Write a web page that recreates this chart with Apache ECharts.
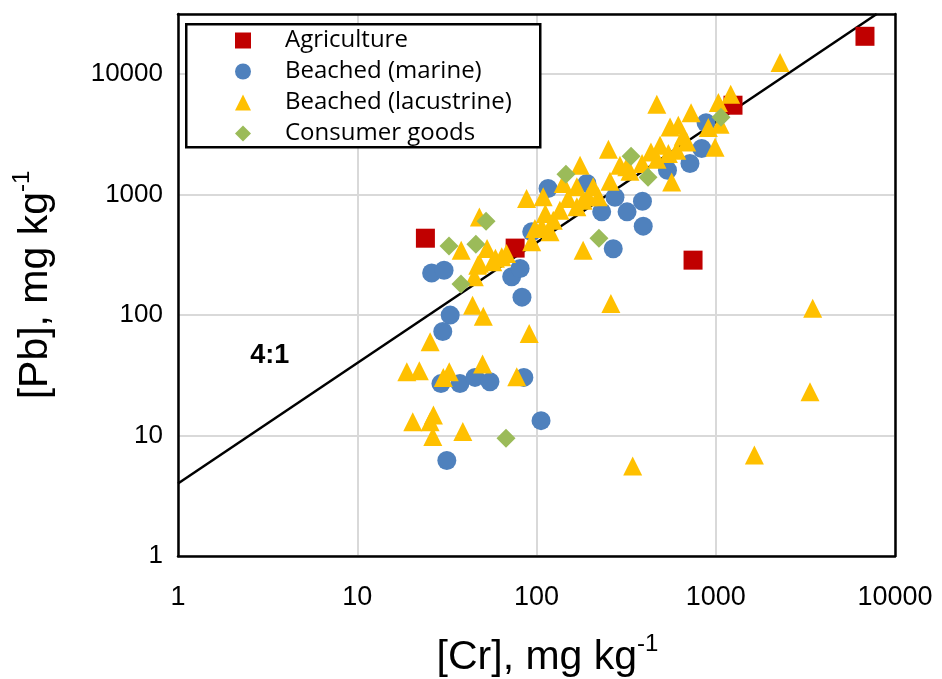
<!DOCTYPE html>
<html><head><meta charset="utf-8">
<script src="https://cdn.jsdelivr.net/npm/echarts@6/dist/echarts.min.js"></script>
<style>html,body{margin:0;padding:0;background:#fff}#c{width:942px;height:679px}</style>
</head><body><div id="c"></div>
<script>
const xTicks = [1, 10, 100, 1000, 10000];
const yTicks = [1, 10, 100, 1000, 10000];
const seriesNames = ['Agriculture', 'Beached (marine)', 'Beached (lacustrine)', 'Consumer goods'];

const agriculture = [[24,435],[76,360],[747,286],[1248,5530],[6800,20650]];

const marine = [
  [26,224],[30.5,236],[72.7,208],[81,244],[83,141],[94,491],[116,1126],[191,1239],
  [231,720],[274,953],[320,720],[390,883],[394,548],[268,356],[538,1597],[718,1816],
  [835,2418],[883,3960],[33,100],[30,73],[29.3,27],[37.4,27],[45.4,30.4],[55,28],
  [85,30.4],[106,13.3],[31.6,6.2]
];

const lacustrine = [
  [2284,12510],[1212,6826],[1034,5823],[1057,3846],[909,3613],[991,2479],[469,5637],[728,4795],
  [252,2387],[175,1758],[207,1161],[257,1295],[292,1758],[332,1567],[388,1816],[435,2266],
  [470,1972],[489,2576],[544,2198],[556,3654],[618,3776],[606,2341],[659,3060],[689,2743],
  [568,1277],[182,900],[221,959],[319,1702],[150,930],[141,1239],[168,1161],[135,744],
  [194,959],[182,346],[260,125],[344,5.6],[3475,114],[3357,23.1],[1642,6.9],[88,930],
  [109,959],[112,698],[107,540],[119,491],[94,406],[64,305],[68,325],[57,277],
  [53,358],[48,270],[48,654],[38,346],[47,260],[45,208],[59,296],[124,614],
  [98,524],[168,792],[44,121],[50.5,98],[91,70.5],[25.5,60],[18.9,33.8],[22.2,34.5],
  [32.6,33.8],[30.2,30.4],[50,39.2],[77.6,30.8],[20.4,13],[26.6,14.8],[25.5,13],[26.4,9.8],
  [38.8,10.8]
];

const consumer = [[52.3,603],[32.5,374],[45.9,388],[37.9,181],[146,1480],[337,2088],[419,1397],[223,435],[1070,4396],[67.6,9.5]];

const ratio = 4;
const xMin = 1, xMax = 10000, yMin = 1, yMax = 31623;
const ratioLine = [[xMin, xMin * ratio], [yMax / ratio, yMax]];
const ratioLabel = [[3.25, 46]];

const colors = ['#C00000', '#4F81BD', '#FFC000', '#9BBB59'];
const symbols = ['rect', 'circle', 'triangle', 'diamond'];
const dataSets = [agriculture, marine, lacustrine, consumer];

const chart = echarts.init(document.getElementById('c'), null, {renderer: 'canvas'});

const tickFmt = (ticks) => (v) => {
  for (const t of ticks) { if (Math.abs(v - t) / t < 1e-6) return String(t); }
  return '';
};

const scatterSeries = seriesNames.map((n, i) => ({
  name: n, type: 'scatter', symbol: symbols[i], symbolSize: 19,
  itemStyle: {color: colors[i], opacity: 1},
  data: dataSets[i], z: 3 + i
}));

const titleRich = {
  m: {fontFamily: 'Liberation Sans', fontSize: 41, color: '#000', lineHeight: 46, verticalAlign: 'bottom'},
  s: {fontFamily: 'Liberation Sans', fontSize: 24, color: '#000', lineHeight: 46, verticalAlign: 'top', padding: [0,0,14,0]}
};

const option = {
  animation: false,
  backgroundColor: '#fff',
  grid: {left: 178, right: 47, top: 14, bottom: 123, show: false, containLabel: false, outerBoundsMode: 'none'},
  xAxis: [{
    type: 'log', logBase: 10, min: xMin, max: xMax,
    axisLine: {show: true, lineStyle: {color: '#000', width: 2.5}},
    axisTick: {show: false},
    splitLine: {show: true, lineStyle: {color: '#d9d9d9', width: 2}},
    minorSplitLine: {show: false},
    axisLabel: {formatter: tickFmt(xTicks), fontFamily: 'Liberation Sans', fontSize: 27, color: '#000', margin: 28},
    name: '{m|[Cr], mg kg}{s|-1}', nameLocation: 'middle', nameGap: 76,
    nameTextStyle: {rich: titleRich, padding: [0, 0, 0, 22]}
  }, {
    type: 'log', logBase: 10, min: xMin, max: xMax, position: 'top',
    axisLine: {show: true, onZero: false, lineStyle: {color: '#000', width: 2.5}},
    axisTick: {show: false}, axisLabel: {show: false}, splitLine: {show: false}
  }],
  yAxis: [{
    type: 'log', logBase: 10, min: yMin, max: yMax,
    axisLine: {show: true, lineStyle: {color: '#000', width: 2.5}},
    axisTick: {show: false},
    splitLine: {show: true, lineStyle: {color: '#d9d9d9', width: 2}},
    axisLabel: {formatter: tickFmt(yTicks), fontFamily: 'Liberation Sans', fontSize: 26, color: '#000', margin: 15},
    name: '{m|[Pb], mg kg}{s|-1}', nameLocation: 'middle', nameGap: 122, nameRotate: 90,
    nameTextStyle: {rich: titleRich}
  }, {
    type: 'log', logBase: 10, min: yMin, max: yMax, position: 'right',
    axisLine: {show: true, onZero: false, lineStyle: {color: '#000', width: 2.5}},
    axisTick: {show: false}, axisLabel: {show: false}, splitLine: {show: false}
  }],
  legend: {
    data: seriesNames, orient: 'vertical', left: 185, top: 23,
    padding: [5.5, 20, 4.5, 50], itemWidth: 16, itemHeight: 16, itemGap: 7,
    textStyle: {fontFamily: 'Open Sans', fontSize: 24, color: '#000', padding: [0, 0, 0, 29]},
    backgroundColor: 'transparent', borderWidth: 0, z: 10
  },
  graphic: [{
    type: 'rect', left: 185, top: 23, z: 9,
    shape: {width: 354, height: 123},
    style: {fill: '#fff', stroke: '#000', lineWidth: 2.5}
  }],
  series: [{
    type: 'line', data: ratioLine, symbol: 'none', silent: true,
    lineStyle: {color: '#000', width: 2.5}, z: 2, clip: true
  }, {
    type: 'scatter', data: ratioLabel, symbolSize: 0, silent: true,
    itemStyle: {opacity: 1},
    label: {show: true, position: 'inside', formatter: '4:1', fontFamily: 'Liberation Sans', fontWeight: 'bold', fontSize: 27, color: '#000', opacity: 1}, z: 2
  }].concat(scatterSeries)
};
chart.setOption(option);
</script>
</body></html>
